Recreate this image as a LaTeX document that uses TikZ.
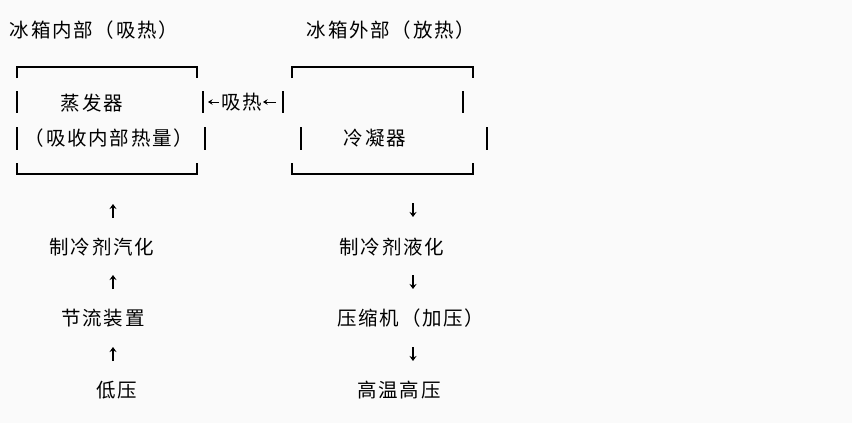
\documentclass[tikz,border=0pt]{standalone}
\usepackage{fontspec}
\usetikzlibrary{arrows.meta}
\newfontfamily\cjk[LetterSpace=9]{Noto Sans CJK SC}
\tikzset{
  lbl/.style={inner sep=0pt, font=\cjk\fontsize{19.5}{20}\selectfont},
  rim/.style={line width=2pt, line cap=butt},
  flow/.style={line width=1.8pt, -{Stealth[length=5pt, width=7pt]}},
  heat/.style={line width=1pt, -{Stealth[length=4.5pt, width=5.5pt]}}
}
\begin{document}
\begin{tikzpicture}[x=1pt, y=-1pt]
    % Fondo y marco de la pagina
    \fill[black!2] (0,0) rectangle (852,423);
    \useasboundingbox (0,0) rectangle (852,423);

    % Titulos de las dos zonas
    \node[lbl] (inner) at (94,30) {冰箱内部（吸热）};
    \node[lbl] (outer) at (391,30) {冰箱外部（放热）};

    % Caja del evaporador
    \draw[rim] (17,78) -- (17,67) -- (197,67) -- (197,78);
    \draw[rim] (17,163) -- (17,174) -- (197,174) -- (197,163);
    \draw[rim] (17,91) -- (17,113);
    \draw[rim] (17,127) -- (17,150);
    \draw[rim] (203,91) -- (203,113);
    \draw[rim] (205,127) -- (205,150);
    \node[lbl] (evap) at (92,103) {蒸发器};
    \node[lbl] (evapnote) at (109,138) {（吸收内部热量）};

    % Caja del condensador
    \draw[rim] (292,78) -- (292,67) -- (473,67) -- (473,78);
    \draw[rim] (292,163) -- (292,174) -- (473,174) -- (473,163);
    \draw[rim] (283,91) -- (283,113);
    \draw[rim] (463,91) -- (463,113);
    \draw[rim] (301,127) -- (301,150);
    \draw[rim] (487,127) -- (487,150);
    \node[lbl] (cond) at (375,138) {冷凝器};

    % Paso de calor entre las cajas
    \node[lbl] (absorb) at (242,102) {吸热};
    \coordinate (hA) at (219,102);
    \coordinate (hB) at (208,102);
    \coordinate (hC) at (276,102);
    \coordinate (hD) at (263,102);
    \draw[heat] (hA) -- (hB);
    \draw[heat] (hC) -- (hD);

    % Rama izquierda (sube hacia el evaporador)
    \node[lbl] (vapor) at (102,247) {制冷剂汽化};
    \node[lbl] (valve) at (103,318) {节流装置};
    \node[lbl] (lowp) at (117,390) {低压};
    \foreach \y in {204,275,347}
        \draw[flow] (113,\y+14) -- (113,\y);

    % Rama derecha (baja desde el condensador)
    \node[lbl] (liquid) at (392,247) {制冷剂液化};
    \node[lbl] (compr) at (411,318) {压缩机（加压）};
    \node[lbl] (highp) at (399,390) {高温高压};
    \foreach \y in {203,275,347}
        \draw[flow] (413,\y) -- (413,\y+14);
\end{tikzpicture}
\end{document}
